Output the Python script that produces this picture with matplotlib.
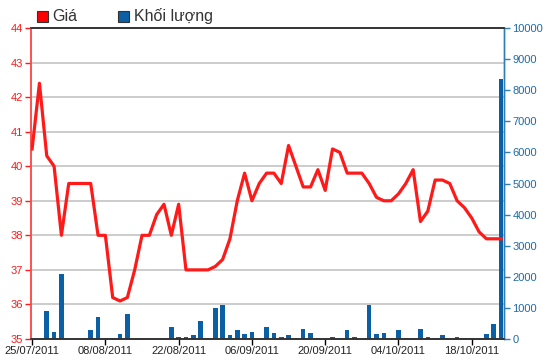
import matplotlib
matplotlib.use("Agg")
import matplotlib.pyplot as plt
from matplotlib.patches import Rectangle

plt.rcParams['font.family'] = ['Liberation Sans', 'DejaVu Sans']

tick_labels = ['25/07/2011', '08/08/2011', '22/08/2011', '06/09/2011',
               '20/09/2011', '04/10/2011', '18/10/2011']
tick_index = [0, 10, 20, 30, 40, 50, 60]

price = [40.5, 42.4, 40.3, 40.0, 38.0, 39.5, 39.5, 39.5, 39.5, 38.0,
         38.0, 36.2, 36.1, 36.2, 37.0, 38.0, 38.0, 38.6, 38.9, 38.0,
         38.9, 37.0, 37.0, 37.0, 37.0, 37.1, 37.3, 37.9, 39.0, 39.8,
         39.0, 39.5, 39.8, 39.8, 39.5, 40.6, 40.0, 39.4, 39.4, 39.9,
         39.3, 40.5, 40.4, 39.8, 39.8, 39.8, 39.5, 39.1, 39.0, 39.0,
         39.2, 39.5, 39.9, 38.4, 38.7, 39.6, 39.6, 39.5, 39.0, 38.8,
         38.5, 38.1, 37.9, 37.9, 37.9]

volume = [0, 0, 910, 235, 2090, 0, 0, 0, 280, 717,
          40, 40, 165, 800, 0, 0, 0, 0, 0, 395,
          75, 75, 120, 590, 0, 995, 1080, 120, 280, 160,
          235, 0, 395, 205, 75, 120, 40, 310, 205, 30,
          0, 75, 40, 277, 75, 0, 1085, 160, 205, 0,
          277, 40, 0, 320, 75, 40, 118, 0, 75, 40,
          40, 40, 160, 490, 8360]

RED = '#ff1a1a'
BLUE = '#0b5fa5'
AXBLUE = '#2f7db5'

fig = plt.figure(figsize=(5.5, 3.64), dpi=100)
ax = fig.add_axes([31/550, 1-339/364, (504-31)/550, (339-28)/364])
ax2 = ax.twinx()

x = list(range(len(price)))

# volume bars on right axis (drawn behind)
ax2.bar(x, volume, width=0.62, color=BLUE, edgecolor='none', zorder=2)
ax2.set_ylim(0, 10000)
ax2.set_yticks(range(0, 10001, 1000))
ax2.tick_params(axis='y', colors=AXBLUE, labelsize=8, length=4, width=1, pad=2)
for lab in ax2.get_yticklabels():
    lab.set_color('#1f6aa5')

# price line on left axis, on top
ax.set_zorder(ax2.get_zorder() + 1)
ax.patch.set_visible(False)
ax.plot(x, price, color=RED, lw=2.3, solid_joinstyle='round', zorder=5)
ax.set_ylim(35, 44)
ax.set_yticks(range(35, 45))
ax.set_xlim(-0.15, 64.4)
ax.set_xticks(tick_index)
ax.set_xticklabels(tick_labels)
ax.tick_params(axis='y', colors=RED, labelsize=8, length=4, width=1, pad=2)
ax.tick_params(axis='x', colors='black', labelsize=8, length=4, width=1, pad=1)
for lab in ax.get_xticklabels():
    lab.set_color('#222222')

# gridlines drawn on the back axes
for v in range(36, 44):
    ax2.axhline((v - 35) / 9 * 10000, color='#c8c8c8', lw=1.3, zorder=1)

for a in (ax, ax2):
    a.spines['left'].set_color('#ff5050')
    a.spines['right'].set_color(AXBLUE)
    a.spines['top'].set_color('#333333')
    a.spines['bottom'].set_color('#333333')
    a.spines['left'].set_linewidth(1.2)
    a.spines['right'].set_linewidth(1.0)
    a.spines['top'].set_linewidth(1.2)
    a.spines['bottom'].set_linewidth(1.2)

# legend
fig.patches.append(Rectangle((37/550, 1-22/364), 11/550, 11/364,
                             transform=fig.transFigure, facecolor='#ff0000',
                             edgecolor='#333333', lw=0.8))
fig.text(52/550, 1-16.5/364, 'Giá', fontsize=11.5, color='#333333', va='center', ha='left')
fig.patches.append(Rectangle((118/550, 1-22/364), 11/550, 11/364,
                             transform=fig.transFigure, facecolor='#0b5fa5',
                             edgecolor='#333333', lw=0.8))
fig.text(134/550, 1-16.5/364, 'Khối lượng', fontsize=11.5, color='#333333', va='center', ha='left')

fig.savefig('out.png', dpi=100)
